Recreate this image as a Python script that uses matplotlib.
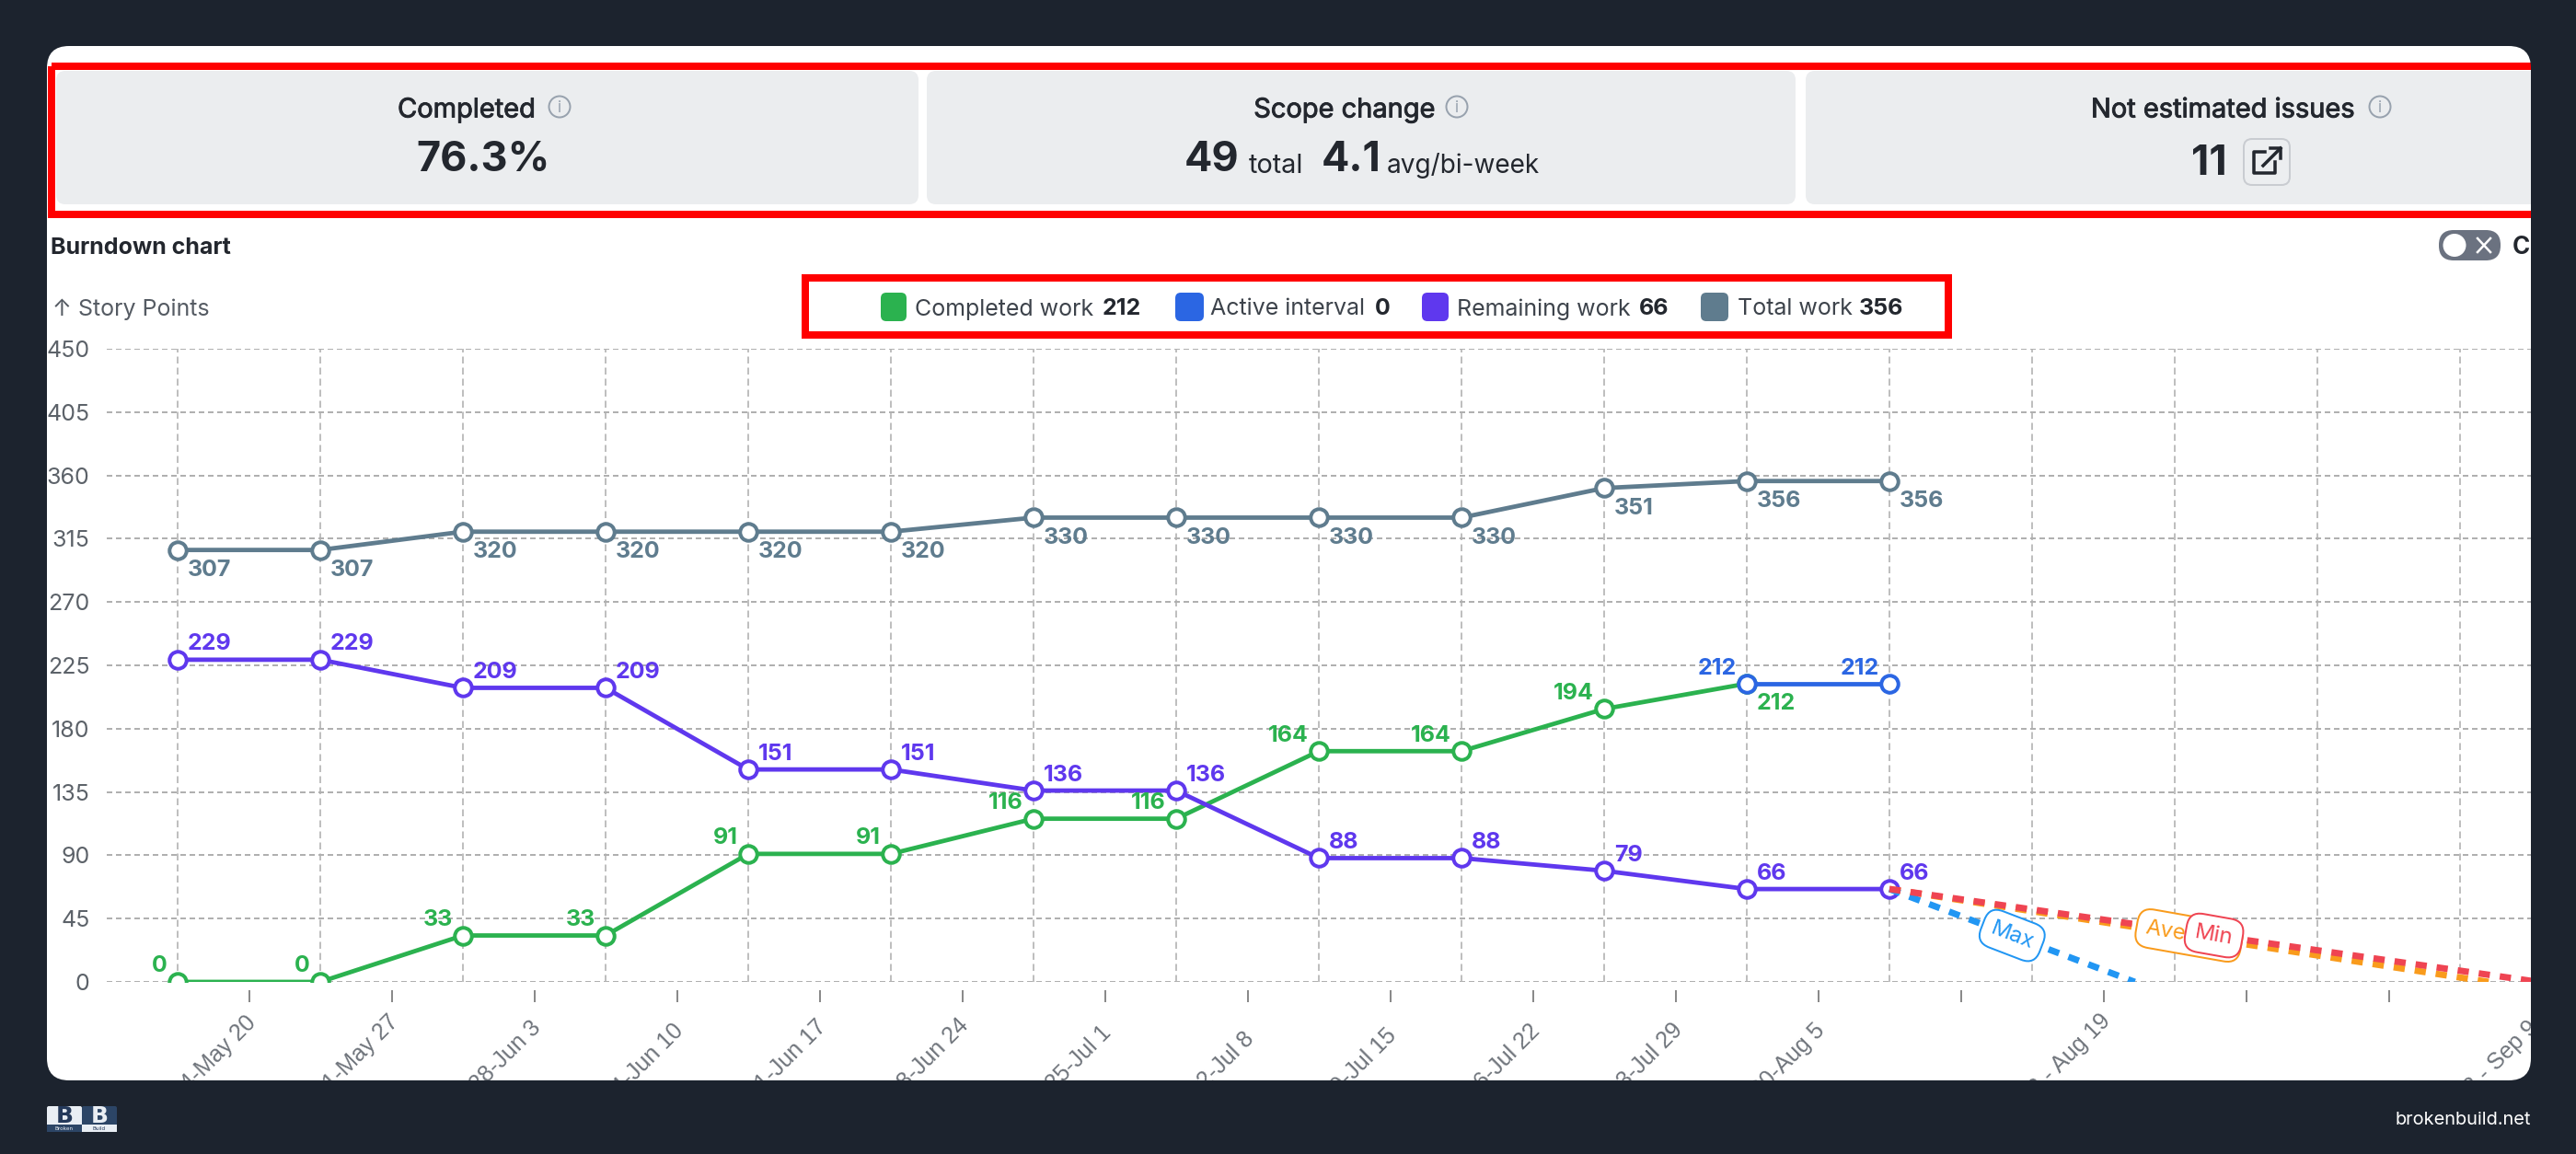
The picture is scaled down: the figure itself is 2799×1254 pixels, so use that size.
import matplotlib
matplotlib.use("Agg")
import matplotlib.pyplot as plt
import matplotlib.patheffects as pe
from matplotlib.patches import FancyBboxPatch, PathPatch, Rectangle, Circle
from matplotlib.path import Path
from matplotlib.transforms import ScaledTranslation

plt.rcParams['font.family'] = ['Inter', 'DejaVu Sans']

W, H = 2799, 1254
DARK = '#1c232e'
GREEN, BLUE, PURPLE, SLATE = '#2bb24f', '#2b66e3', '#5f38ee', '#5f7c8e'
MAXC, AVGC, MINC = '#2196f3', '#f99b1c', '#ef4452'

# ---- data
periods = list(range(17))
completed = [0, 0, 33, 33, 91, 91, 116, 116, 164, 164, 194, 212]
active_x = [11, 12]
active = [212, 212]
remaining = [229, 229, 209, 209, 151, 151, 136, 136, 88, 88, 79, 66, 66]
total = [307, 307, 320, 320, 320, 320, 330, 330, 330, 330, 351, 356, 356]
fc_x_max = [12, 13.72]
fc_y_max = [66, 0]
fc_x_avg = [12, 16.2]
fc_y_avg = [66, 0]
fc_x_min = [12, 16.55]
fc_y_min = [66, 0]
y_ticks = [0, 45, 90, 135, 180, 225, 270, 315, 360, 405, 450]
x_tick_pos = [i + 0.5 for i in range(17)]
x_tick_labels = ['May 14-May 20', 'May 21-May 27', 'May 28-Jun 3', 'Jun 4-Jun 10', 'Jun 11-Jun 17',
                 'Jun 18-Jun 24', 'Jun 25-Jul 1', 'Jul 2-Jul 8', 'Jul 9-Jul 15', 'Jul 16-Jul 22',
                 'Jul 23-Jul 29', 'Jul 30-Aug 5', '', 'Aug 13 - Aug 19', '', '', 'Sep 3 - Sep 9']
legend_names = ['Completed work', 'Active interval', 'Remaining work', 'Total work']
legend_values = ['212', '0', '66', '356']
legend_colors = [GREEN, BLUE, PURPLE, SLATE]

# pixel row where the top of each rotated tick label sits
x_label_top = [1099, 1098, 1105, 1108, 1104, 1102, 1110, 1117, 1113, 1108, 1107, 1108, 0, 1097, 0, 0, 1105]

fig = plt.figure(figsize=(W / 100, H / 100), dpi=100, facecolor='white')


def px(v):
    return v * 0.72


# ---- background layer, one unit = one pixel
bg = fig.add_axes([0, 0, 1, 1], zorder=0)
bg.set_xlim(0, W)
bg.set_ylim(H, 0)
bg.axis('off')

for x0, x1 in [(61, 998), (1007, 1951), (1962, 2790)]:
    bg.add_patch(FancyBboxPatch((x0, 77), x1 - x0, 145, boxstyle='round,pad=0,rounding_size=10',
                                fc='#ebedef', ec='none'))
bg.add_patch(Rectangle((56, 72), 2760, 161, fc='none', ec='#ff0000', lw=px(8)))
bg.add_patch(Rectangle((875, 302), 1242, 62, fc='none', ec='#ff0000', lw=px(8)))


def info(cx):
    bg.add_patch(Circle((cx, 116), 11.5, fc='none', ec='#98a2ae', lw=px(2)))
    bg.text(cx, 117, 'i', color='#98a2ae', fontsize=px(17), ha='center', va='center')


INK = '#23272e'
medium = [pe.withStroke(linewidth=px(0.9), foreground=INK)]
bg.text(507, 120, 'Completed', fontsize=px(29), color=INK, ha='center', va='center', path_effects=medium)
info(608)
bg.text(525, 174, '76.3%', fontsize=px(45), weight='bold', color=INK, ha='center', va='center')

bg.text(1461, 120, 'Scope change', fontsize=px(29), color=INK, ha='center', va='center', path_effects=medium)
info(1583)
bg.text(1287, 174, '49', fontsize=px(45), weight='bold', color=INK, ha='left', va='center')
bg.text(1357, 180, 'total', fontsize=px(29), color=INK, ha='left', va='center')
bg.text(1436, 174, '4.1', fontsize=px(45), weight='bold', color=INK, ha='left', va='center')
bg.text(1507, 180, 'avg/bi-week', fontsize=px(28), color=INK, ha='left', va='center')

bg.text(2415, 120, 'Not estimated issues', fontsize=px(29), color=INK, ha='center', va='center', path_effects=medium)
info(2586)
bg.text(2400, 178, '11', fontsize=px(45), weight='bold', color=INK, ha='center', va='center')
bg.add_patch(FancyBboxPatch((2438, 151), 50, 50, boxstyle='round,pad=0,rounding_size=9',
                            fc='#eceef0', ec='#c9ccd1', lw=px(2)))
bg.plot([2461, 2449, 2449, 2472, 2472], [165, 165, 188, 188, 176], color=INK, lw=px(3.5),
        solid_joinstyle='round')
bg.plot([2459, 2478], [180, 161], color=INK, lw=px(3.5))
bg.plot([2467, 2478, 2478], [161, 161, 172], color=INK, lw=px(3.5))

bg.text(55, 269, 'Burndown chart', fontsize=px(25), weight='bold', color=INK, ha='left', va='center')
bg.text(57, 336, '↑ Story Points', fontsize=px(25), color='#555b63', ha='left', va='center')

# toggle
bg.add_patch(FancyBboxPatch((2650, 250), 67, 33, boxstyle='round,pad=0,rounding_size=16',
                            fc='#6b7280', ec='none'))
bg.add_patch(Circle((2667, 266.5), 12.5, fc='white', ec='none'))
bg.plot([2692, 2706], [259, 274], color='white', lw=px(2.5))
bg.plot([2692, 2706], [274, 259], color='white', lw=px(2.5))
bg.text(2730, 269, 'C', fontsize=px(26), weight='bold', color=INK, ha='left', va='center')

# legend
sw_x = [957, 1277, 1545, 1848]
sw_w = [28, 31, 29, 30]
name_x = [994, 1315, 1583, 1888]
val_x = [1198, 1494, 1781, 2020]
for c, sx, sw, nm, nx, val, vx in zip(legend_colors, sw_x, sw_w, legend_names, name_x, legend_values, val_x):
    bg.add_patch(FancyBboxPatch((sx, 318), sw, 31, boxstyle='round,pad=0,rounding_size=6', fc=c, ec='none'))
    bg.text(nx, 336, nm, fontsize=px(25), color='#3d434b', ha='left', va='center')
    bg.text(vx, 336, val, fontsize=px(25), weight='bold', color=INK, ha='left', va='center')

# ---- chart layer
L, R, T, B = 115.5, 2750.5, 379, 1067
ax = fig.add_axes([L / W, 1 - B / H, (R - L) / W, (B - T) / H], zorder=1)
ax.patch.set_alpha(0)
ax.set_xlim(-0.5, 16.5)
ax.set_ylim(0, 450)
for s in ax.spines.values():
    s.set_visible(False)
ax.set_yticks(y_ticks)
ax.tick_params(axis='y', length=0, pad=px(18), labelsize=px(25))
for lab in ax.get_yticklabels():
    lab.set_color('#5c6269')
ax.set_xticks(x_tick_pos)
ax.set_xticklabels(x_tick_labels)
ax.set_xticks(periods, minor=True)
ax.tick_params(axis='x', which='major', length=px(13), width=px(1.6), color='#6e6e6e', pad=px(14))
ax.tick_params(axis='x', which='minor', length=0)
# ticks start a little below the axis
for tk in ax.xaxis.get_major_ticks():
    tk.tick1line.set_marker('|')
    tk.tick1line.set_markersize(px(13))
    tk.tick1line.set_transform(tk.tick1line.get_transform() + ScaledTranslation(0, -14.5 / 100, fig.dpi_scale_trans))
for lab in ax.get_xticklabels():
    lab.set(rotation=45, ha='right', va='center', rotation_mode='anchor', fontsize=px(25), color='#6f747b',
            family=['Liberation Sans'])
ax.yaxis.grid(True, color='#b0b0b0', lw=px(2), ls=(0, (3, 2)), zorder=0)
ax.xaxis.grid(True, which='minor', color='#aaaaaa', lw=px(1.5), ls=(0, (5, 3)), zorder=0)
ax.xaxis.grid(False, which='major')
ax.set_axisbelow(True)

fig.canvas.draw()
for lab, pos, ytop in zip(ax.get_xticklabels(), x_tick_pos, x_label_top):
    if not lab.get_text():
        continue
    bb = lab.get_window_extent()
    tick_px = ax.transData.transform((pos, 0))[0]
    dx = tick_px + 12 - bb.x1
    dy = (H - ytop) - bb.y1
    lab.set_transform(lab.get_transform() + ScaledTranslation(dx / 100, dy / 100, fig.dpi_scale_trans))

marker = dict(marker='o', ms=px(18.5), mfc='white', mew=px(4), lw=px(4.8), solid_capstyle='round')
ax.plot(range(len(total)), total, color=SLATE, zorder=3, **marker)
ax.plot(range(len(completed)), completed, color=GREEN, zorder=3, **marker)
ax.plot(active_x, active, color=BLUE, zorder=3, **marker)
ax.plot(range(len(remaining)), remaining, color=PURPLE, zorder=4, **marker)

dots = dict(lw=px(7), ls=(0, (1.75, 1.55)), dash_capstyle='butt')
ax.plot(fc_x_avg, fc_y_avg, color=AVGC, zorder=5, **dots)
ax.plot(fc_x_max, fc_y_max, color=MAXC, zorder=5, **dots)
ax.plot(fc_x_min, fc_y_min, color=MINC, zorder=6, **dots)


def pill(xs, ys, text, color, rot, z):
    ax.text(sum(xs) / 2, sum(ys) / 2, text, color=color, fontsize=px(24), rotation=rot, ha='center', va='center',
            rotation_mode='anchor', zorder=z,
            bbox=dict(boxstyle='round,pad=0.42,rounding_size=0.65', fc='white', ec=color, lw=px(2)))


pill(fc_x_max, fc_y_max, 'Max', MAXC, -21, 7)
pill(fc_x_avg, fc_y_avg, 'Average', AVGC, -10, 7)
pill(fc_x_min, fc_y_min, 'Min', MINC, -10, 8)


def labels(xs, ys, color, dx, dy, ha, z=9):
    for x, y in zip(xs, ys):
        ax.annotate(str(y), (x, y), xytext=(dx, dy), textcoords='offset pixels', color=color, fontsize=px(25),
                    weight='bold', ha=ha, va='center', zorder=z, annotation_clip=False)


labels(range(len(total)), total, SLATE, 11, -22, 'left')
labels(range(len(remaining)), remaining, PURPLE, 11, 17, 'left')
labels(range(11), completed[:11], GREEN, -11, 17, 'right')
labels([11], completed[11:], GREEN, 11, -22, 'left')
labels(active_x, active, BLUE, -11, 16, 'right')

# ---- frame and footer layer
top = fig.add_axes([0, 0, 1, 1], zorder=2)
top.set_xlim(0, W)
top.set_ylim(H, 0)
top.axis('off')
top.patch.set_alpha(0)
card = FancyBboxPatch((51, 50), 2699, 1124, boxstyle='round,pad=0,rounding_size=24')
top.add_patch(card)
inner = card.get_path()
card.remove()
outer = Path([(0, 0), (0, H), (W, H), (W, 0), (0, 0)],
             [Path.MOVETO, Path.LINETO, Path.LINETO, Path.LINETO, Path.CLOSEPOLY])
top.add_patch(PathPatch(Path.make_compound_path(outer, inner), fc=DARK, ec='none'))

top.add_patch(FancyBboxPatch((51, 1202), 38, 28, boxstyle='round,pad=0,rounding_size=2', fc='#e9eef4', ec='none'))
top.add_patch(FancyBboxPatch((89, 1202), 38, 28, boxstyle='round,pad=0,rounding_size=2', fc='#2c4566', ec='none'))
top.add_patch(Rectangle((51, 1222), 38, 8, fc='#2c4566', ec='none'))
top.add_patch(Rectangle((89, 1222), 38, 8, fc='#e9eef4', ec='none'))
top.text(70, 1213, 'B', fontsize=px(25), weight='bold', family=['DejaVu Sans'], color='#24395a', ha='center', va='center')
top.text(108, 1213, 'B', fontsize=px(25), weight='bold', family=['DejaVu Sans'], color='#e9eef4', ha='center', va='center')
top.text(70, 1226.5, 'Broken', fontsize=px(6), color='#e9eef4', ha='center', va='center')
top.text(108, 1226.5, 'Build', fontsize=px(6), color='#24395a', ha='center', va='center')
top.text(2750, 1217, 'brokenbuild.net', fontsize=px(20), color='white', ha='right', va='center')

fig.savefig('out.png', dpi=100, facecolor='white')
